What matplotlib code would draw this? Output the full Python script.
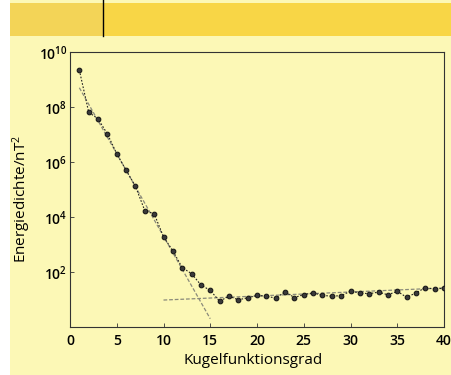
import numpy as np
import matplotlib.pyplot as plt
from matplotlib.patches import Rectangle
from matplotlib.lines import Line2D

# Kugelfunktionsgrad n and log10 of the energy density (nT^2)
grad = list(range(1, 41))
log_energie = [9.34, 7.81, 7.57, 7.02, 6.30, 5.70, 5.12, 4.23, 4.12, 3.28,
               2.77, 2.16, 1.94, 1.53, 1.33, 0.94, 1.12, 0.99, 1.06, 1.15,
               1.12, 1.05, 1.28, 1.07, 1.18, 1.24, 1.15, 1.12, 1.14, 1.30,
               1.24, 1.21, 1.27, 1.17, 1.30, 1.08, 1.24, 1.43, 1.38, 1.41]
energie = [10 ** v for v in log_energie]

# fitted lines (core field / crustal field)
kern_x = [1, 15]
kern_y = [10 ** 8.7, 10 ** 0.3]
kruste_x = [10, 40]
kruste_y = [10 ** 0.98, 10 ** 1.42]

plt.rcParams['font.family'] = ['Open Sans', 'DejaVu Sans']
plt.rcParams['font.weight'] = 'semibold'
plt.rcParams['mathtext.default'] = 'regular'

fig = plt.figure(figsize=(4.52, 3.75), dpi=100)
fig.patch.set_facecolor('#fcf8b6')

# page background bits from the scan
fig.patches.append(Rectangle((0, 0), 10 / 452, 1, transform=fig.transFigure,
                             facecolor='white', edgecolor='none', zorder=-10))
fig.patches.append(Rectangle((10 / 452, 1 - 36 / 375), 1, 33 / 375, transform=fig.transFigure,
                             facecolor='#f8d646', edgecolor='none', zorder=-10))
fig.patches.append(Rectangle((10 / 452, 1 - 36 / 375), 93 / 452, 33 / 375, transform=fig.transFigure,
                             facecolor='#f3d457', edgecolor='none', zorder=-10))
fig.lines.append(Line2D([103 / 452, 103 / 452], [1 - 36 / 375, 1], transform=fig.transFigure,
                        color='black', lw=1.0, zorder=-5))

ax = fig.add_axes([70 / 452, 1 - 327 / 375, 374 / 452, 275 / 375])
ax.set_facecolor('none')

ax.plot(kern_x, kern_y, color='#8a8a7a', lw=0.9, ls=(0, (3, 1.5)), zorder=2)
ax.plot(kruste_x, kruste_y, color='#8a8a7a', lw=0.9, ls=(0, (3, 1.5)), zorder=2)
ax.plot(grad, energie, color='#222222', lw=0.8, ls=(0, (1.5, 1.5)),
        marker='o', ms=3.4, mfc='#3a3a3a', mec='#111111', mew=0.7, zorder=3)

ax.set_yscale('log')
ax.set_xlim(0, 40)
ax.set_ylim(1e0, 1e10)
ax.set_xticks([0, 5, 10, 15, 20, 25, 30, 35, 40])
ax.set_yticks([1e2, 1e4, 1e6, 1e8, 1e10])
ax.set_yticklabels(['10$^{2}$', '10$^{4}$', '10$^{6}$', '10$^{8}$', '10$^{10}$'])
ax.yaxis.set_minor_locator(plt.NullLocator())
ax.tick_params(axis='both', direction='in', length=3, width=0.6, colors='#333333',
               labelcolor='black', labelsize=10)
ax.tick_params(axis='x', pad=5)
ax.tick_params(axis='y', pad=2)
for s in ax.spines.values():
    s.set_linewidth(0.8)
    s.set_color('#333333')

ax.set_xlabel('Kugelfunktionsgrad', fontsize=11)
ax.set_ylabel('Energiedichte/nT$^2$', fontsize=11)
ax.xaxis.set_label_coords(0.489, -0.095)
ax.yaxis.set_label_coords(-0.10, 0.465)

fig.savefig('out.png', dpi=100, facecolor=fig.get_facecolor())
